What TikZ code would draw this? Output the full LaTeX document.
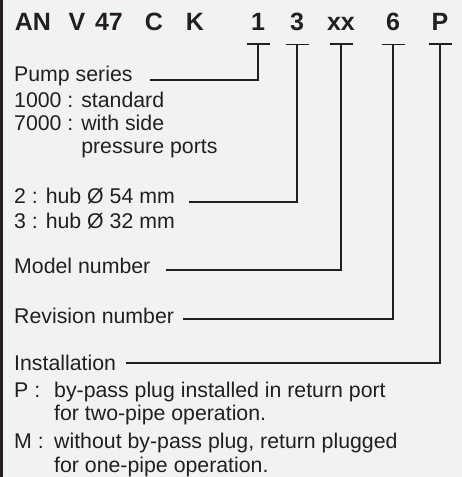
\documentclass[tikz,border=0pt]{standalone}
\usepackage{fontspec}
\setmainfont{Liberation Sans}
\usepackage{tikz}

\definecolor{paper}{HTML}{F1F2F4}
\definecolor{ink}{HTML}{231F20}

\begin{document}
\begin{tikzpicture}[x=1pt,y=-1pt,
    txt/.style={anchor=base west,inner sep=0pt,text=ink,font=\fontsize{21.3}{25}\selectfont},
    code/.style={anchor=base,inner sep=0pt,text=ink,font=\fontsize{25}{29}\selectfont\bfseries},
    lead/.style={draw=ink,line width=1.8pt}]
      \fill[paper] (0,0) rectangle (462,477);
      \useasboundingbox (0,0) rectangle (462,477);
      \draw[ink,line width=2.6pt] (1.3,0) -- (1.3,477);
      % type key
      \node[code] (an) at (33,30) {AN};
      \node[code] (v) at (77,30) {V};
      \node[code] (n47) at (109,30) {47};
      \node[code] (c) at (154,30) {C};
      \node[code] (k) at (195,30) {K};
      \node[code] (c1) at (258,30) {1};
      \node[code] (c3) at (297,30) {3};
      \node[code] (cxx) at (341,30) {xx};
      \node[code] (c6) at (393,30) {6};
      \node[code] (cp) at (440,30) {P};
      % texts
      \node[txt] (pump) at (14,81.7) {Pump series};
      \node[txt] (pump1) at (14,107) {1000 : standard};
      \node[txt] (pump2) at (14,130) {7000 : with side};
      \node[txt] (pump3) at (14,153) {\hphantom{7000 : }pressure ports};
      \node[txt] (hub) at (14,203) {2 : hub Ø 54 mm};
      \node[txt] (hub2) at (14,228) {3 : hub Ø 32 mm};
      \node[txt] (model) at (14,273) {Model number};
      \node[txt] (rev) at (14,323) {Revision number};
      \node[txt] (inst) at (14,370) {Installation};
      \node[txt] (instp) at (14,397) {P :};
      \node[txt] (instp1) at (54,397) {by-pass plug installed in return port};
      \node[txt] (instp2) at (54,420) {for two-pipe operation.};
      \node[txt] (instm) at (14,448) {M :};
      \node[txt] (instm1) at (54,448) {without by-pass plug, return plugged};
      \node[txt] (instm2) at (54,472) {for one-pipe operation.};
      % leaders
      \foreach \c/\l/\dx/\dy in {c1/pump/17/2,c3/hub/14/1,cxx/model/15/3,c6/rev/9/4,cp/inst/10/7} {
        \coordinate (t\c) at ([yshift=-14pt]\c.south);
        \draw[lead] ([xshift=-11.5pt]t\c) -- ([xshift=11.5pt]t\c);
        \draw[lead] (t\c) |- ([xshift=\dx pt,yshift=\dy pt]\l.base east);
      }
    \end{tikzpicture}
\end{document}
